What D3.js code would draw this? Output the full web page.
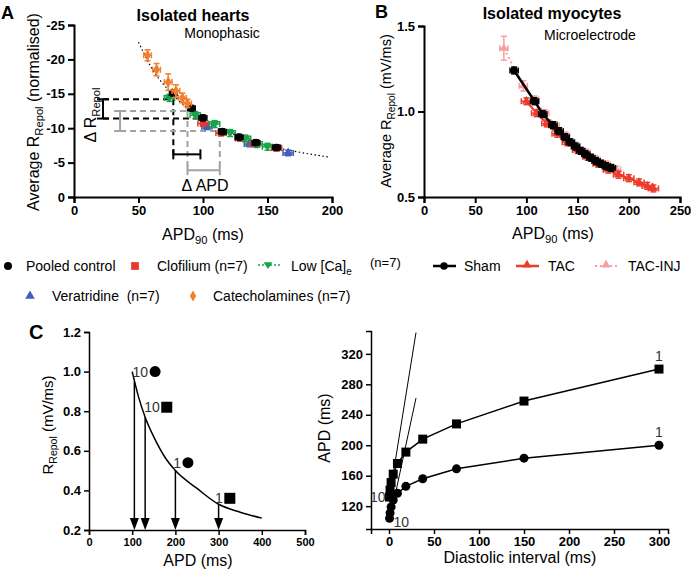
<!DOCTYPE html>
<html>
<head>
<meta charset="utf-8">
<script src="https://cdn.jsdelivr.net/npm/d3@7"></script>
<style>
  body { margin: 0; background: #fff; }
  svg { font-family: Arial, "Liberation Sans", sans-serif; }
</style>
</head>
<body>
<div id="fig"></div>
<script>
// panel A - isolated hearts (values as on the axis, i.e. negative)
var ctrlAPD = [77, 91, 100, 115, 128, 141, 157];
var ctrlR = [-15.1, -12.9, -11.5, -9.5, -8.7, -7.9, -7.2];
var clofAPD = [100, 114, 129, 140, 157];
var clofR = [-10.7, -9.3, -8.5, -7.7, -7.1];
var lowCaAPD = [74, 94, 109, 121, 133, 142, 150];
var lowCaR = [-14.4, -11.9, -10.6, -9.3, -8.5, -7.7, -7.3];
var veraAPD = [103, 136, 166];
var veraR = [-10.2, -7.7, -6.4];
var catAPD = [57, 64, 73, 79, 84, 88];
var catR = [-20.6, -18.5, -16.7, -15.4, -14.4, -13.6];
var catErr = [0.8, 0.9, 1.2, 0.9, 0.7, 0.6];
var fitAPD = [50, 60, 75, 90, 100, 125, 150, 175, 198];
var fitR = [-22.5, -18.8, -15.2, -12.6, -11.2, -9.0, -7.5, -6.5, -5.8];

// panel B - isolated myocytes
var shamAPD = [88, 108, 116, 126, 132, 138, 143, 148, 153, 158, 163, 168, 173, 178, 183];
var shamR = [1.24, 1.06, 0.985, 0.92, 0.885, 0.85, 0.82, 0.795, 0.77, 0.75, 0.73, 0.71, 0.695, 0.68, 0.67];
var tacAPD = [100, 110, 120, 130, 140, 150, 160, 170, 180, 190, 200, 210, 218, 224];
var tacR = [1.06, 0.99, 0.93, 0.87, 0.82, 0.775, 0.735, 0.695, 0.66, 0.63, 0.61, 0.585, 0.565, 0.55];
var injAPD = [78, 97, 108, 118, 128, 138, 148, 158, 168, 178, 188];
var injR = [1.37, 1.15, 1.07, 0.99, 0.92, 0.86, 0.80, 0.76, 0.72, 0.69, 0.66];
var injErr = [0.07, 0.03, 0.02, 0.02, 0.02, 0.02, 0.02, 0.02, 0.02, 0.02, 0.02];

// panel C left - restitution schematic
var curveAPD = [100, 115, 130, 150, 175, 200, 250, 300, 350, 400];
var curveR = [1.0, 0.87, 0.77, 0.67, 0.57, 0.5, 0.41, 0.33, 0.29, 0.26];
var arrowAPD = [105, 130, 200, 300];
var arrowR = [0.95, 0.77, 0.5, 0.33];
var markAPD = [153, 180, 229, 326];
var markR = [1.0, 0.82, 0.54, 0.36];
var markShape = ["circle", "square", "circle", "square"];
var markLabel = ["10", "10", "1", "1"];

// panel C right - APD vs diastolic interval
var diVals = [300, 150, 75, 37.5, 18.75, 9.38, 4.69, 2.34, 1.17, 0.59];
var apdSquare = [300, 258, 228, 208, 191, 176, 162, 151, 141, 132];
var apdCircle = [200, 183, 169, 156, 146, 137, 128, 119, 111, 104];
var tangent1DI = [3, 30];
var tangent1APD = [150, 348];
var tangent2DI = [6, 30];
var tangent2APD = [130, 262];

var svg = d3.select("#fig").append("svg")
  .attr("width", 691)
  .attr("height", 577);

function styleAxis(g, sw, fs) {
  g.select(".domain").attr("stroke-width", sw);
  g.selectAll(".tick line").attr("stroke-width", sw);
  g.selectAll(".tick text")
    .attr("font-size", fs)
    .attr("font-weight", "bold")
    .attr("fill", "#000");
}

// text with one subscript part
function subText(g, x, y, rot, pre, sub, post, size, anchor) {
  var t = g.append("text")
    .attr("transform", "translate(" + x + "," + y + ")" + (rot ? " rotate(-90)" : ""))
    .attr("text-anchor", anchor || "middle")
    .attr("font-size", size);
  t.append("tspan").text(pre);
  t.append("tspan").attr("font-size", size * 0.7).attr("dy", size * 0.28).text(sub);
  if (post) t.append("tspan").attr("dy", -size * 0.28).text(post);
  return t;
}

function zip(a, b) { return a.map(function(d, i) { return [d, b[i]]; }); }

function errPoints(g, xs, ys, ex, ey, x, y, color, symbol, size) {
  var cap = 3;
  xs.forEach(function(d, i) {
    var px = x(d), py = y(ys[i]);
    var eyv = Array.isArray(ey) ? ey[i] : ey;
    var x0 = x(d - ex), x1 = x(d + ex);
    var y0 = y(ys[i] - eyv), y1 = y(ys[i] + eyv);
    var e = g.append("g").attr("stroke", color).attr("stroke-width", 1.5).attr("fill", "none");
    e.append("line").attr("x1", x0).attr("x2", x1).attr("y1", py).attr("y2", py);
    e.append("line").attr("x1", x0).attr("x2", x0).attr("y1", py - cap).attr("y2", py + cap);
    e.append("line").attr("x1", x1).attr("x2", x1).attr("y1", py - cap).attr("y2", py + cap);
    e.append("line").attr("x1", px).attr("x2", px).attr("y1", y0).attr("y2", y1);
    e.append("line").attr("x1", px - cap).attr("x2", px + cap).attr("y1", y0).attr("y2", y0);
    e.append("line").attr("x1", px - cap).attr("x2", px + cap).attr("y1", y1).attr("y2", y1);
    g.append("path")
      .attr("d", d3.symbol().type(symbol).size(size)())
      .attr("transform", "translate(" + px + "," + py + ")")
      .attr("fill", color);
  });
}

var triDown = {
  draw: function(ctx, size) {
    var s = Math.sqrt(size / 0.433) / 2;
    ctx.moveTo(-s, -s * 0.6);
    ctx.lineTo(s, -s * 0.6);
    ctx.lineTo(0, s * 0.9);
    ctx.closePath();
  }
};

// ---------- panel A ----------
var gA = svg.append("g");
var xA = d3.scaleLinear().domain([0, 200]).range([74, 332]);
var yA = d3.scaleLinear().domain([0, -25]).range([197, 25]);

var axA = gA.append("g").attr("transform", "translate(0,197)")
  .call(d3.axisBottom(xA).tickValues([0, 50, 100, 150, 200]).tickSizeOuter(0).tickSize(6));
styleAxis(axA, 2, 13);
var ayA = gA.append("g").attr("transform", "translate(74,0)")
  .call(d3.axisLeft(yA).tickValues([0, -5, -10, -15, -20, -25]).tickFormat(function(d) { return d === 0 ? "0" : "-" + Math.abs(d); }).tickSizeOuter(0).tickSize(6));
styleAxis(ayA, 2, 13);

// delta annotations
var dashB = gA.append("g").attr("stroke", "#000").attr("stroke-width", 2).attr("stroke-dasharray", "6,4");
dashB.append("line").attr("x1", xA(22.5)).attr("x2", xA(77)).attr("y1", yA(-14.2)).attr("y2", yA(-14.2));
dashB.append("line").attr("x1", xA(22.5)).attr("x2", xA(98)).attr("y1", yA(-11.4)).attr("y2", yA(-11.4));
dashB.append("line").attr("x1", xA(77)).attr("x2", xA(77)).attr("y1", yA(-14.2)).attr("y2", yA(-5.5));
var dashG = gA.append("g").attr("stroke", "#a3a3a3").attr("stroke-width", 2).attr("stroke-dasharray", "6,4");
dashG.append("line").attr("x1", xA(35.7)).attr("x2", xA(88)).attr("y1", yA(-12.5)).attr("y2", yA(-12.5));
dashG.append("line").attr("x1", xA(35.7)).attr("x2", xA(113)).attr("y1", yA(-9.6)).attr("y2", yA(-9.6));
dashG.append("line").attr("x1", xA(88)).attr("x2", xA(88)).attr("y1", yA(-12.5)).attr("y2", yA(-3.9));
dashG.append("line").attr("x1", xA(113)).attr("x2", xA(113)).attr("y1", yA(-9.6)).attr("y2", yA(-3.9));

function vBracket(g, xv, r0, r1, color) {
  var b = g.append("g").attr("stroke", color).attr("stroke-width", 2);
  b.append("line").attr("x1", xA(xv)).attr("x2", xA(xv)).attr("y1", yA(r0)).attr("y2", yA(r1));
  b.append("line").attr("x1", xA(xv) - 6).attr("x2", xA(xv) + 6).attr("y1", yA(r0)).attr("y2", yA(r0));
  b.append("line").attr("x1", xA(xv) - 6).attr("x2", xA(xv) + 6).attr("y1", yA(r1)).attr("y2", yA(r1));
}
function hBracket(g, a0, a1, rv, color) {
  var b = g.append("g").attr("stroke", color).attr("stroke-width", 2);
  b.append("line").attr("x1", xA(a0)).attr("x2", xA(a1)).attr("y1", yA(rv)).attr("y2", yA(rv));
  b.append("line").attr("x1", xA(a0)).attr("x2", xA(a0)).attr("y1", yA(rv) - 5).attr("y2", yA(rv) + 5);
  b.append("line").attr("x1", xA(a1)).attr("x2", xA(a1)).attr("y1", yA(rv) - 5).attr("y2", yA(rv) + 5);
}
vBracket(gA, 22.5, -14.2, -11.4, "#000");
vBracket(gA, 35.7, -12.5, -9.6, "#a3a3a3");
hBracket(gA, 77, 98, -6.2, "#000");
hBracket(gA, 88, 113, -3.9, "#a3a3a3");

// fit curve
gA.append("path")
  .datum(zip(fitAPD, fitR))
  .attr("d", d3.line().x(function(d) { return xA(d[0]); }).y(function(d) { return yA(d[1]); }).curve(d3.curveMonotoneX))
  .attr("fill", "none")
  .attr("stroke", "#000")
  .attr("stroke-width", 1.2)
  .attr("stroke-dasharray", "1.5,2.5");

errPoints(gA, veraAPD, veraR, 4, 0.4, xA, yA, "#3f5fb8", d3.symbolTriangle, 40);
errPoints(gA, clofAPD, clofR, 4, 0.4, xA, yA, "#e8392c", d3.symbolSquare, 45);
errPoints(gA, lowCaAPD, lowCaR, 4, 0.5, xA, yA, "#18a44a", triDown, 45);
errPoints(gA, ctrlAPD, ctrlR, 3, 0.4, xA, yA, "#000", d3.symbolCircle, 45);
errPoints(gA, catAPD, catR, 3, catErr, xA, yA, "#f08030", d3.symbolDiamond, 40);

gA.append("text").attr("x", 1).attr("y", 19).attr("font-size", 18).attr("font-weight", "bold").text("A");
gA.append("text").attr("x", 193).attr("y", 21).attr("text-anchor", "middle").attr("font-size", 16).attr("font-weight", "bold").text("Isolated hearts");
gA.append("text").attr("x", 222).attr("y", 38).attr("text-anchor", "middle").attr("font-size", 14).text("Monophasic");
subText(gA, 39, 112, true, "Average R", "Repol", " (normalised)", 16);
subText(gA, 96, 115, true, "\u0394 R", "Repol", null, 16);
gA.append("text").attr("x", 205).attr("y", 191).attr("text-anchor", "middle").attr("font-size", 16).text("\u0394 APD");
subText(gA, 203, 240, false, "APD", "90", " (ms)", 16);

// ---------- panel B ----------
var gB = svg.append("g");
var xB = d3.scaleLinear().domain([0, 250]).range([424, 680]);
var yB = d3.scaleLinear().domain([0.5, 1.5]).range([197, 26]);
var axB = gB.append("g").attr("transform", "translate(0,197)")
  .call(d3.axisBottom(xB).tickValues([0, 50, 100, 150, 200, 250]).tickSizeOuter(0).tickSize(6));
styleAxis(axB, 2, 13);
var ayB = gB.append("g").attr("transform", "translate(424,0)")
  .call(d3.axisLeft(yB).tickValues([0.5, 1.0, 1.5]).tickFormat(d3.format(".1f")).tickSizeOuter(0).tickSize(6));
styleAxis(ayB, 2, 13);

var lineB = d3.line().x(function(d) { return xB(d[0]); }).y(function(d) { return yB(d[1]); });

gB.append("path").datum(zip(injAPD, injR)).attr("d", lineB)
  .attr("fill", "none").attr("stroke", "#f4a0a0").attr("stroke-width", 2).attr("stroke-dasharray", "2,3");
errPoints(gB, injAPD, injR, 4, injErr, xB, yB, "#f4a0a0", d3.symbolTriangle, 30);
gB.append("path").datum(zip(tacAPD, tacR)).attr("d", lineB)
  .attr("fill", "none").attr("stroke", "#ec3b2c").attr("stroke-width", 2);
errPoints(gB, tacAPD, tacR, 5, 0.02, xB, yB, "#ec3b2c", d3.symbolTriangle, 35);
gB.append("path").datum(zip(shamAPD, shamR)).attr("d", lineB)
  .attr("fill", "none").attr("stroke", "#000").attr("stroke-width", 2.5);
errPoints(gB, shamAPD, shamR, 4, 0.02, xB, yB, "#000", d3.symbolCircle, 45);

gB.append("text").attr("x", 375).attr("y", 18).attr("font-size", 18).attr("font-weight", "bold").text("B");
gB.append("text").attr("x", 552).attr("y", 19).attr("text-anchor", "middle").attr("font-size", 16).attr("font-weight", "bold").text("Isolated myocytes");
gB.append("text").attr("x", 590).attr("y", 40).attr("text-anchor", "middle").attr("font-size", 14).text("Microelectrode");
subText(gB, 391, 111, true, "Average R", "Repol", " (mV/ms)", 14.5);
subText(gB, 553, 239, false, "APD", "90", " (ms)", 16);

// ---------- legend ----------
var gL = svg.append("g").attr("font-size", 14);
function legMark(x, y, sym, color, size) {
  gL.append("path").attr("d", d3.symbol().type(sym).size(size)())
    .attr("transform", "translate(" + x + "," + y + ")").attr("fill", color);
}
function legLine(x0, x1, y, color, dash, w) {
  gL.append("line").attr("x1", x0).attr("x2", x1).attr("y1", y).attr("y2", y)
    .attr("stroke", color).attr("stroke-width", w).attr("stroke-dasharray", dash);
}
legMark(8, 266, d3.symbolCircle, "#000", 50);
gL.append("text").attr("x", 26).attr("y", 271).text("Pooled control");
legMark(135, 266, d3.symbolSquare, "#e8392c", 60);
gL.append("text").attr("x", 157).attr("y", 271).text("Clofilium (n=7)");
legLine(258, 280, 265, "#18a44a", "2,2", 1.5);
legMark(268, 265, triDown, "#18a44a", 35);
var lowCa = gL.append("text").attr("x", 291).attr("y", 271);
lowCa.append("tspan").text("Low [Ca]");
lowCa.append("tspan").attr("font-size", 10).attr("dy", 4).text("e");
gL.append("text").attr("x", 370).attr("y", 267).attr("font-size", 13).text("(n=7)");
legLine(433, 456, 266, "#000", null, 2.5);
legMark(444, 266, d3.symbolCircle, "#000", 45);
gL.append("text").attr("x", 464).attr("y", 271).text("Sham");
legLine(516, 539, 266, "#ec3b2c", null, 2.5);
legMark(527, 265, d3.symbolTriangle, "#ec3b2c", 35);
gL.append("text").attr("x", 548).attr("y", 271).text("TAC");
legLine(595, 617, 266, "#f4a0a0", "2,3", 2);
legMark(606, 265, d3.symbolTriangle, "#f4a0a0", 35);
gL.append("text").attr("x", 628).attr("y", 271).text("TAC-INJ");
legMark(30, 296, d3.symbolTriangle, "#3f5fb8", 40);
gL.append("text").attr("x", 52).attr("y", 301).attr("xml:space", "preserve").text("Veratridine  (n=7)");
legMark(193, 296, d3.symbolDiamond, "#f08030", 35);
gL.append("text").attr("x", 213).attr("y", 301).text("Catecholamines (n=7)");

// ---------- panel C left ----------
var gC = svg.append("g");
var xC = d3.scaleLinear().domain([0, 500]).range([89, 305]);
var yC = d3.scaleLinear().domain([0.2, 1.2]).range([530, 332]);
var axC = gC.append("g").attr("transform", "translate(0,530)")
  .call(d3.axisBottom(xC).tickValues([0, 100, 200, 300, 400, 500]).tickSizeOuter(0).tickSize(5));
styleAxis(axC, 1.5, 11);
var ayC = gC.append("g").attr("transform", "translate(89,0)")
  .call(d3.axisLeft(yC).tickValues([0.2, 0.4, 0.6, 0.8, 1.0, 1.2]).tickFormat(d3.format(".1f")).tickSizeOuter(0).tickSize(5));
styleAxis(ayC, 1.5, 13);

gC.append("path")
  .datum(zip(curveAPD, curveR))
  .attr("d", d3.line().x(function(d) { return xC(d[0]); }).y(function(d) { return yC(d[1]); }).curve(d3.curveMonotoneX))
  .attr("fill", "none").attr("stroke", "#000").attr("stroke-width", 1.5);

arrowAPD.forEach(function(d, i) {
  var px = xC(d);
  gC.append("line").attr("x1", px).attr("x2", px).attr("y1", yC(arrowR[i])).attr("y2", 520)
    .attr("stroke", "#000").attr("stroke-width", 1.5);
  gC.append("path").attr("d", "M" + (px - 4.5) + ",518L" + (px + 4.5) + ",518L" + px + ",530Z").attr("fill", "#000");
});

markAPD.forEach(function(d, i) {
  var px = xC(d), py = yC(markR[i]);
  if (markShape[i] === "circle") {
    gC.append("circle").attr("cx", px).attr("cy", py).attr("r", 5.5).attr("fill", "#000");
  } else {
    gC.append("rect").attr("x", px - 5.5).attr("y", py - 5.5).attr("width", 11).attr("height", 11).attr("fill", "#000");
  }
  gC.append("text").attr("x", px - 7).attr("y", py + 5).attr("text-anchor", "end")
    .attr("font-size", 14).attr("fill", "#333").text(markLabel[i]);
});

gC.append("text").attr("x", 29).attr("y", 339).attr("font-size", 20).attr("font-weight", "bold").text("C");
subText(gC, 53, 425, true, "R", "Repol", " (mV/ms)", 15);
gC.append("text").attr("x", 198).attr("y", 566).attr("text-anchor", "middle").attr("font-size", 16).text("APD (ms)");

// ---------- panel C right ----------
var gD = svg.append("g");
var xD = d3.scaleLinear().domain([-20, 310]).range([371, 668]);
var yD = d3.scaleLinear().domain([90, 350]).range([529, 331]);
var axD = gD.append("g").attr("transform", "translate(0,529)")
  .call(d3.axisBottom(xD).tickValues([0, 50, 100, 150, 200, 250, 300]).tickSizeOuter(0).tickSize(5));
styleAxis(axD, 1.5, 13);
var ayD = gD.append("g").attr("transform", "translate(371,0)")
  .call(d3.axisLeft(yD).tickValues([120, 160, 200, 240, 280, 320]).tickSizeOuter(0).tickSize(5));
styleAxis(ayD, 1.5, 13);

var lineD = d3.line().x(function(d) { return xD(d[0]); }).y(function(d) { return yD(d[1]); });
gD.append("path").datum(zip(tangent1DI, tangent1APD)).attr("d", lineD).attr("stroke", "#000").attr("stroke-width", 1);
gD.append("path").datum(zip(tangent2DI, tangent2APD)).attr("d", lineD).attr("stroke", "#000").attr("stroke-width", 1);
gD.append("path").datum(zip(diVals, apdSquare)).attr("d", lineD).attr("fill", "none").attr("stroke", "#000").attr("stroke-width", 1.5);
gD.append("path").datum(zip(diVals, apdCircle)).attr("d", lineD).attr("fill", "none").attr("stroke", "#000").attr("stroke-width", 1.5);
gD.selectAll("rect.sq").data(zip(diVals, apdSquare)).enter().append("rect")
  .attr("x", function(d) { return xD(d[0]) - 4.5; })
  .attr("y", function(d) { return yD(d[1]) - 4.5; })
  .attr("width", 9).attr("height", 9).attr("fill", "#000");
gD.selectAll("circle.ci").data(zip(diVals, apdCircle)).enter().append("circle")
  .attr("cx", function(d) { return xD(d[0]); })
  .attr("cy", function(d) { return yD(d[1]); })
  .attr("r", 4.5).attr("fill", "#000");

gD.append("text").attr("x", xD(diVals[0])).attr("y", yD(apdSquare[0]) - 8).attr("text-anchor", "middle").attr("font-size", 14).attr("fill", "#333").text("1");
gD.append("text").attr("x", xD(diVals[0])).attr("y", yD(apdCircle[0]) - 8).attr("text-anchor", "middle").attr("font-size", 14).attr("fill", "#333").text("1");
gD.append("text").attr("x", xD(diVals[9]) - 4).attr("y", yD(apdSquare[9]) + 5).attr("text-anchor", "end").attr("font-size", 14).attr("fill", "#333").text("10");
gD.append("text").attr("x", xD(diVals[9]) + 4).attr("y", yD(apdCircle[9]) + 9).attr("font-size", 14).attr("fill", "#333").text("10");

gD.append("text").attr("transform", "translate(330,428) rotate(-90)").attr("text-anchor", "middle").attr("font-size", 16).text("APD (ms)");
gD.append("text").attr("x", 520).attr("y", 563).attr("text-anchor", "middle").attr("font-size", 16).text("Diastolic interval (ms)");
</script>
</body>
</html>
